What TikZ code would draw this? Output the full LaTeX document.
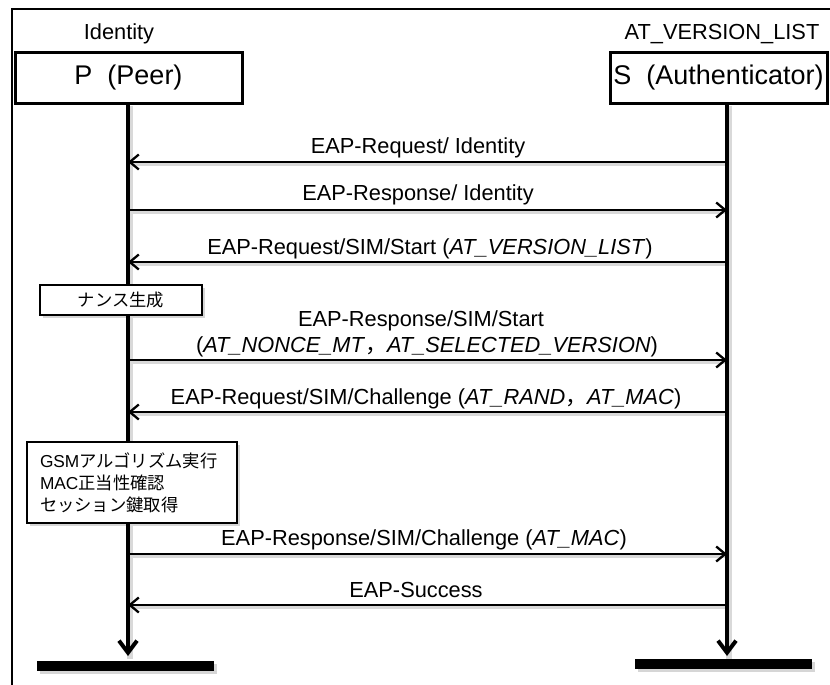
\documentclass[tikz,border=0pt]{standalone}
\usepackage{fontspec}
\setmainfont{Liberation Sans}
\newfontfamily\cjk{Noto Sans CJK JP}
\usetikzlibrary{arrows.meta}
\pgfdeclarelayer{back}
\pgfsetlayers{back,main}
\begin{document}
\begin{tikzpicture}[x=1pt,y=-1pt,
  every node/.style={inner sep=0pt, outer sep=0pt},
  % soft grey drop shadow, drawn on the back layer
  shd/.style={draw=black!15, line width=#1, transform canvas={shift={(2.2pt,-2.6pt)}}},
  shdbox/.style={fill=black!16, transform canvas={shift={(2.5pt,-2.8pt)}}},
  msg/.style={line width=2.3pt, -{Straight Barb[length=9pt,width=15pt]}},
  life/.style={line width=4pt, -{Straight Barb[length=12pt,width=18pt]}},
  lbl/.style={font=\fontsize{21.8}{26}\selectfont, align=center},
  party/.style={draw, line width=3pt, fill=white, minimum height=50pt,
    font=\fontsize{27}{32}\selectfont},
  note/.style={draw, line width=1.8pt, fill=white,
    font=\fontsize{17.3}{22}\selectfont},
  bar/.style={fill=black, minimum height=10pt}
]
\useasboundingbox (0,0) rectangle (830,685);
\clip (0,0) rectangle (830,685);

% outer frame
\draw[line width=2pt] (12,9) rectangle (850,700);

% participants
\node[party, minimum width=227pt] (pbox) at (128.5,78) {P\ \ (Peer)};
\node[party, minimum width=217pt] (sbox) at (718.5,78) {S\ \ (Authenticator)};
\node[lbl, anchor=base] (pid) at (119,40) {Identity};
\node[lbl, anchor=base] (sver) at (722,40) {AT\_VERSION\_LIST};

% lifelines
\coordinate (ptop) at (128,103);
\coordinate (stop) at (727,103);
\coordinate (pend) at (128,656);
\coordinate (send) at (727,656);
\draw[life] (ptop) -- (pend);
\draw[life] (stop) -- (send);

% lifeline terminators
\node[bar, minimum width=177pt] (pbar) at (125.5,666) {};
\node[bar, minimum width=177pt] (sbar) at (723.5,664) {};

% message end points on the lifelines
\foreach \i/\y in {1/162,2/210,3/262,5/360,6/412,8/554,9/605}{
  \coordinate (p\i) at (128,\y);
  \coordinate (s\i) at (727,\y);
}

% messages
\draw[msg] (s1) -- (p1);
\node[lbl, anchor=base] (m1) at (418,153) {EAP-Request/ Identity};

\draw[msg] (p2) -- (s2);
\node[lbl, anchor=base] (m2) at (418,200) {EAP-Response/ Identity};

\draw[msg] (s3) -- (p3);
\node[lbl, anchor=base] (m3) at (430,254) {EAP-Request/SIM/Start (\textit{AT\_VERSION\_LIST})};

\node[note, minimum width=162pt, minimum height=30pt] (nonce) at (121,300)
  {\cjk ナンス生成};

\draw[msg] (p5) -- (s5);
\node[lbl, anchor=base] (m5a) at (421,326) {EAP-Response/SIM/Start};
\node[lbl, anchor=base] (m5b) at (427,352)
  {(\textit{AT\_NONCE\_MT}{\cjk ，}\textit{AT\_SELECTED\_VERSION})};

\draw[msg] (s6) -- (p6);
\node[lbl, anchor=base] (m6) at (426,404)
  {EAP-Request/SIM/Challenge (\textit{AT\_RAND}{\cjk ，}\textit{AT\_MAC})};

\node[note, minimum width=210pt, minimum height=81pt, align=left,
  text width=184pt] (gsm) at (132,482.5)
  {GSM{\cjk アルゴリズム実行}\\MAC{\cjk 正当性確認}\\{\cjk セッション鍵取得}};

\draw[msg] (p8) -- (s8);
\node[lbl, anchor=base] (m8) at (424,545)
  {EAP-Response/SIM/Challenge (\textit{AT\_MAC})};

\draw[msg] (s9) -- (p9);
\node[lbl, anchor=base] (m9) at (416,597) {EAP-Success};

% shadows behind everything
\begin{pgfonlayer}{back}
  \path[shd=5.5pt] (ptop) -- (pend);
  \path[shd=5.5pt] (stop) -- (send);
  \foreach \a/\b in {s1/p1,p2/s2,s3/p3,p5/s5,s6/p6,p8/s8,s9/p9}
    \path[shd=3.6pt] (\a) -- (\b);
  \foreach \n in {nonce,gsm,pbar,sbar}
    \path[shdbox] (\n.north west) rectangle (\n.south east);
\end{pgfonlayer}
\end{tikzpicture}
\end{document}
